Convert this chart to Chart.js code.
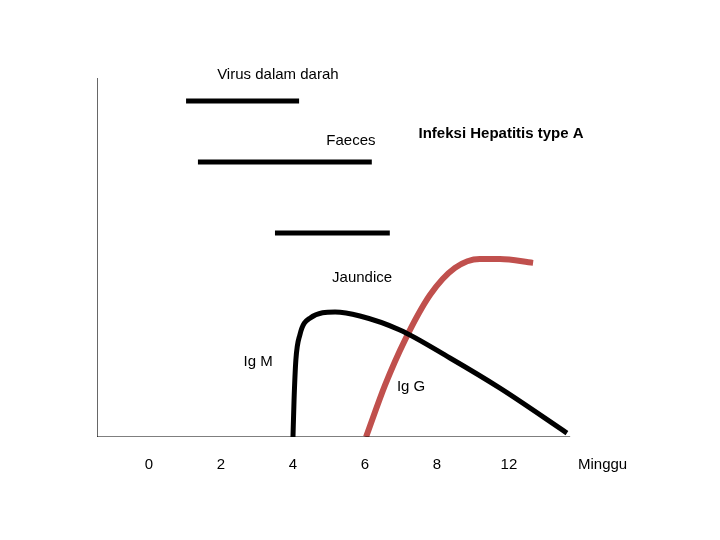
<!DOCTYPE html>
<html><head><meta charset="utf-8">
<script src="https://cdn.jsdelivr.net/npm/chart.js@4/dist/chart.umd.min.js"></script>
<style>html,body{margin:0;background:#fff}#w{width:720px;height:540px}</style>
</head><body><div id="w"><canvas id="c"></canvas></div>
<script>
const tickPos = [0,2,4,6,8,10];
const tickLabels = ["0","2","4","6","8","12"];
const axisTitle = "Minggu";
const virus = [{x:1.03,y:93.6},{x:4.17,y:93.6}];
const faeces = [{x:1.36,y:76.6},{x:6.19,y:76.6}];
const jaundice = [{x:3.5,y:56.8},{x:6.69,y:56.8}];
const igM = [{x:4,y:0},{x:4.03,y:10.3},{x:4.08,y:21.4},{x:4.19,y:28.4},{x:4.47,y:33.1},{x:5.17,y:34.8},{x:5.86,y:33.7},{x:6.97,y:29.8},{x:8.36,y:22},{x:9.75,y:13.6},{x:11.61,y:1.1}];
const igG = [{x:6.03,y:0},{x:6.56,y:14.5},{x:7.11,y:27},{x:7.81,y:39.6},{x:8.5,y:47.1},{x:9.19,y:49.6},{x:9.75,y:49.6},{x:10.67,y:48.5}];
const xAxisLine = [{x:-1.444,y:0},{x:11.7,y:0}];
const yAxisLine = [{x:-1.444,y:0},{x:-1.444,y:100}];
const notes = [
 {t:"Virus dalam darah",x:3.58,y:101,b:false},
 {t:"Faeces",x:5.61,y:82.5,b:false},
 {t:"Infeksi Hepatitis type A",x:9.78,y:84.5,b:true},
 {t:"Jaundice",x:5.92,y:44.2,b:false},
 {t:"Ig M",x:3.03,y:20.9,b:false},
 {t:"Ig G",x:7.28,y:13.9,b:false}
];
const seg=(d,c,w)=>({data:d,borderColor:c,borderWidth:w,pointRadius:0,fill:false,tension:0});
const textPlugin={id:'t',afterDraw(ch){
 const c=ch.ctx,xs=ch.scales.x,ys=ch.scales.y;
 c.save();c.fillStyle='#000';c.textAlign='center';c.textBaseline='middle';
 notes.forEach(n=>{c.font=(n.b?'bold ':'')+'15px "Liberation Sans Narrow","Liberation Sans",sans-serif';
   c.fillText(n.t,xs.getPixelForValue(n.x),ys.getPixelForValue(n.y));});
 c.font='15px "Liberation Sans Narrow","Liberation Sans",sans-serif';
 const ty=ys.getPixelForValue(0)+28;
 tickPos.forEach((p,i)=>c.fillText(tickLabels[i],xs.getPixelForValue(p),ty));
 c.fillText(axisTitle,xs.getPixelForValue(12.6),ty);
 c.restore();}};
new Chart(document.getElementById('c'),{type:'line',
 data:{datasets:[
  seg(xAxisLine,'#000',1.2),seg(yAxisLine,'#000',1.2),
  seg(virus,'#000',5),seg(faeces,'#000',5),seg(jaundice,'#000',5),
  Object.assign(seg(igM,'#000',5),{cubicInterpolationMode:'monotone'}),
  Object.assign(seg(igG,'#c0504d',6),{cubicInterpolationMode:'monotone'})
 ]},
 options:{responsive:true,maintainAspectRatio:false,animation:false,
  layout:{padding:{left:97,right:80,top:78,bottom:103}},
  plugins:{legend:{display:false},tooltip:{enabled:false}},
  scales:{x:{type:'linear',min:-1.444,max:13.64,display:false},
          y:{min:0,max:100,display:false}}},
 plugins:[textPlugin]});
</script></body></html>
